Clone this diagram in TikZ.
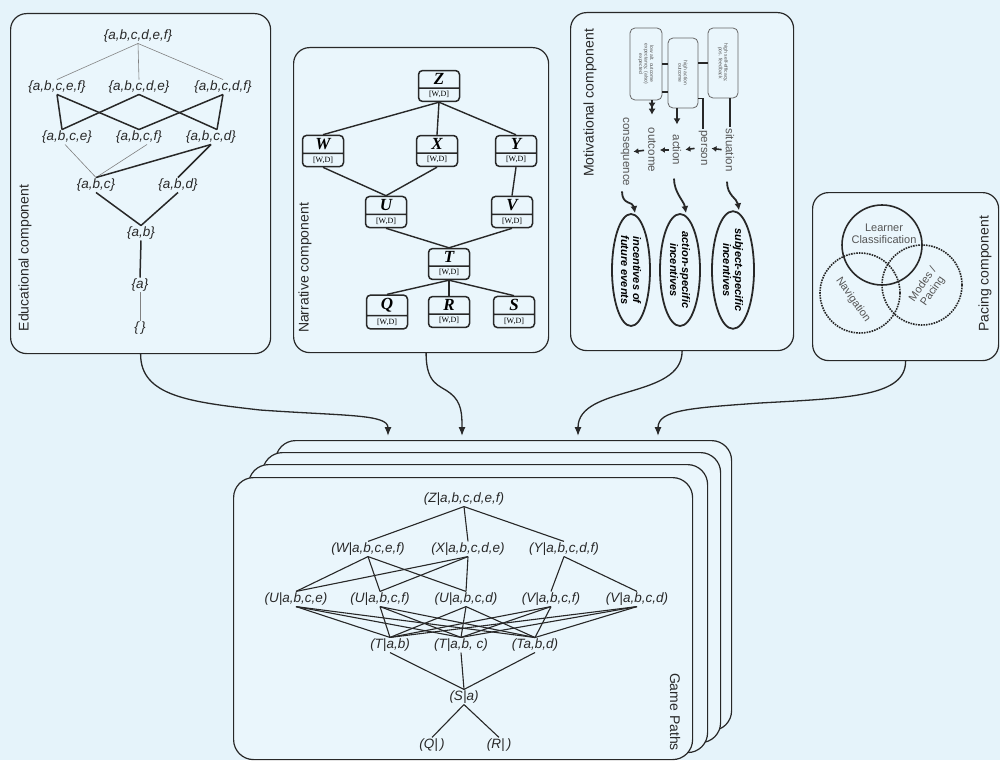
\documentclass[tikz,border=0pt]{standalone}
\usepackage{fontspec}
\setmainfont{Liberation Sans}
\newfontfamily\narfont{Liberation Serif}
\usetikzlibrary{shapes.geometric,shapes.multipart,arrows.meta}

\definecolor{bgblue}{RGB}{229,243,250}
\definecolor{panelblue}{RGB}{234,246,252}
\definecolor{inkgray}{RGB}{40,40,40}
\definecolor{wordgray}{RGB}{85,85,85}

\newcommand{\storytext}[1]{\narfont\bfseries\itshape\fontsize{17}{17}\selectfont #1\nodepart{second}\narfont\fontsize{8}{8}\selectfont[W,D]}

\tikzset{
  panel/.style={draw=inkgray, line width=1.2pt, fill=panelblue, rounded corners=16pt, anchor=north west, inner sep=0pt},
  panellabel/.style={font=\fontsize{14}{14}\selectfont, text=inkgray, rotate=90},
  setnode/.style={font=\fontsize{13.5}{13.5}\selectfont\itshape, text=inkgray, inner sep=1pt},
  thinedge/.style={draw=gray, line width=0.6pt},
  thickedge/.style={draw=inkgray, line width=1.5pt},
  story/.style={rectangle split, rectangle split parts=2, draw=inkgray, line width=1.5pt,
    rounded corners=4pt, fill=panelblue, text width=36pt, align=center, inner sep=2.5pt},
  storyedge/.style={draw=inkgray, line width=1.4pt},
  mbox/.style={draw=gray!80!black, line width=0.8pt, rounded corners=5pt, fill=panelblue,
    rotate=-90, align=center, inner sep=1pt, minimum height=30pt,
    font=\fontsize{5}{5.5}\selectfont, text=wordgray},
  mline/.style={draw=inkgray, line width=1.6pt},
  word/.style={font=\fontsize{11.5}{11.5}\selectfont, text=wordgray, rotate=-90, inner sep=1pt},
  wordarrow/.style={-{Latex[length=5pt,width=6pt]}, line width=1.6pt, draw=inkgray, shorten <=3pt, shorten >=3pt},
  incentive/.style={ellipse, draw=inkgray, line width=1.8pt, fill=panelblue, rotate=-90,
    minimum width=112pt, inner sep=0pt, align=center, font=\fontsize{11}{12}\selectfont\bfseries\itshape},
  squiggle/.style={-{Latex[length=7pt,width=7pt]}, line width=1.8pt, draw=inkgray},
  venn/.style={circle, draw=inkgray, line width=1.6pt, minimum size=80pt, inner sep=0pt},
  venntext/.style={font=\fontsize{11}{12}\selectfont, text=wordgray, align=center, inner sep=0pt},
  pathnode/.style={font=\fontsize{13.5}{13.5}\selectfont\itshape, text=inkgray, inner sep=1pt},
  pathedge/.style={draw=inkgray, line width=1.1pt},
  flow/.style={-{Latex[length=9pt,width=7pt]}, line width=1.3pt, draw=inkgray, shorten >=4pt}
}

\begin{document}
\begin{tikzpicture}[x=1pt,y=-1pt]
  % background
  \fill[bgblue] (0,0) rectangle (1000,760);
  \useasboundingbox (0,0) rectangle (1000,760);

  % Educational component
  \node[panel, minimum width=260pt, minimum height=340pt] (edu) at (10,13) {};
  \node[panellabel] (edulabel) at (25,258) {Educational component};
  \node[setnode] (s0) at (138,36) {\{a,b,c,d,e,f\}};
  \node[setnode] (s1) at (57,87) {\{a,b,c,e,f\}};
  \node[setnode] (s2) at (139,87) {\{a,b,c,d,e\}};
  \node[setnode] (s3) at (223,87) {\{a,b,c,d,f\}};
  \node[setnode] (s4) at (67,137) {\{a,b,c,e\}};
  \node[setnode] (s5) at (139,137) {\{a,b,c,f\}};
  \node[setnode] (s6) at (211,137) {\{a,b,c,d\}};
  \node[setnode] (s7) at (96,185) {\{a,b,c\}};
  \node[setnode] (s8) at (178,185) {\{a,b,d\}};
  \node[setnode] (s9) at (141,233) {\{a,b\}};
  \node[setnode] (s10) at (140,285) {\{a\}};
  \node[setnode] (s11) at (140,328) {\{\,\}};

  \draw[thinedge] (s0.south) -- (s1.north);
  \draw[thinedge] (s0.south) -- (s2.north);
  \draw[thinedge] (s0.south) -- (s3.north);
  \draw[thickedge] (s1.south) -- ([xshift=-5pt]s4.north);
  \draw[thickedge] (s1.south) -- (s5.north);
  \draw[thickedge] (s2.south) -- ([xshift=-5pt]s4.north);
  \draw[thickedge] (s2.south) -- ([xshift=6pt]s6.north);
  \draw[thickedge] (s3.south) -- (s5.north);
  \draw[thickedge] (s3.south) -- ([xshift=6pt]s6.north);
  \draw[thinedge] ([xshift=-2pt]s4.south) -- (s7.north);
  \draw[thinedge] ([xshift=8pt]s5.south) -- (s7.north);
  \draw[thickedge] (s6.south) -- (s7.north);
  \draw[thickedge] (s6.south) -- (s8.north);
  \draw[thickedge] (s7.south) -- (s9.north);
  \draw[thickedge] (s8.south) -- (s9.north);
  \draw[thickedge] (s9.south) -- (s10.north);
  \draw[thinedge] (s10.south) -- (s11.north);

  % Narrative component
  \node[panel, minimum width=255pt, minimum height=305pt] (nar) at (293,47) {};
  \node[panellabel] (narlabel) at (305,268) {Narrative component};
  \node[story] (nz) at (439,86) {\storytext{Z}};
  \node[story] (nw) at (323,151) {\storytext{W}};
  \node[story] (nx) at (437,151) {\storytext{X}};
  \node[story] (ny) at (516,151) {\storytext{Y}};
  \node[story] (nu) at (386,212) {\storytext{U}};
  \node[story] (nv) at (512,212) {\storytext{V}};
  \node[story] (nt) at (449,264) {\storytext{T}};
  \node[story] (nq) at (387,312) {\storytext{Q}};
  \node[story] (nr) at (449,312) {\storytext{R}};
  \node[story] (ns) at (514,312) {\storytext{S}};

  \draw[storyedge] (nz.south) -- (nw.north);
  \draw[storyedge] (nz.south) -- (nx.north);
  \draw[storyedge] (nz.south) -- (ny.north);
  \draw[storyedge] (nw.south) -- (nu.north);
  \draw[storyedge] (nx.south) -- (nu.north);
  \draw[storyedge] (ny.south) -- (nv.north);
  \draw[storyedge] (nu.south) -- (nt.north);
  \draw[storyedge] (nv.south) -- (nt.north);
  \draw[storyedge] (nt.south) -- (nq.north);
  \draw[storyedge] (nt.south) -- (nr.north);
  \draw[storyedge] (nt.south) -- (ns.north);

  % Motivational component
  \node[panel, minimum width=223pt, minimum height=338pt] (mot) at (570,12) {};
  \node[panellabel] (motlabel) at (590,103) {Motivational component};
  \node[mbox, minimum width=70pt] (box1) at (723,63) {high self-efficacy,\\pos. feedback};
  \node[mbox, minimum width=70pt] (box2) at (683,73) {high action\\outcome};
  \node[mbox, minimum width=72pt, minimum height=32pt] (box3) at (646,64) {low alt. outcome\\expectancy, (also)\\expected};

  \node[word] (sit) at (730,150) {situation};
  \node[word] (per) at (703,148) {person};
  \node[word] (act) at (677,150) {action};
  \node[word] (outc) at (652,150) {outcome};
  \node[word] (cons) at (625,152) {consequence};

  \draw[mline] (box3.north) -- (box3.north -| box2.south);
  \draw[mline] ([yshift=-28pt]box3.north) -- ([yshift=-28pt]box3.north -| box2.south);
  \draw[mline] (box1.south -| box2.north) -- (box1.south);
  \draw[mline] (sit.west |- box1.east) -- (sit.west);
  \draw[mline] ([yshift=10pt]box2.north east) -| (per.west);
  \draw[mline, -{Latex[length=6pt,width=7pt]}, shorten >=9pt] (act.west |- box2.east) -- (act.west);
  \draw[mline, -{Latex[length=6pt,width=7pt]Latex[length=6pt,width=7pt]}, shorten >=12pt] (outc.west |- box3.east) -- (outc.west);

  \draw[wordarrow] (sit.south) -- (per.north);
  \draw[wordarrow] (per.south) -- (act.north);
  \draw[wordarrow] (act.south) -- (outc.north);
  \draw[wordarrow] (outc.south) -- (cons.north);

  \node[incentive, minimum height=42pt] (subj) at (733,270) {subject-specific\\incentives};
  \node[incentive, minimum height=40pt] (acti) at (680,270) {action-specific\\incentives};
  \node[incentive, minimum height=38pt] (futu) at (631,270) {incentives of\\future events};

  \draw[squiggle] ([yshift=-9pt,xshift=-3pt]sit.east) .. controls +(0,14) and +(-2,-12) .. ([xshift=6pt]subj.west);
  \draw[squiggle] ([yshift=-12pt,xshift=-3pt]act.east) .. controls +(0,14) and +(-2,-12) .. ([xshift=6pt]acti.west);
  \draw[squiggle] ([yshift=-4pt,xshift=-3pt]cons.east) .. controls +(0,14) and +(-2,-12) .. ([xshift=4pt]futu.west);

  % Pacing component
  \node[panel, minimum width=186pt, minimum height=168pt] (pac) at (812,192) {};
  \node[panellabel] (paclabel) at (985,274) {Pacing component};
  \node[venn, densely dotted] (navc) at (860,293) {};
  \node[venn, densely dotted] (modc) at (922,285) {};
  \node[venn] (learnc) at (882,245) {};
  \node[venntext] (learnt) at (884,234) {Learner\\Classification};
  \node[venntext, rotate=-55] (navt) at (853,300) {Navigation};
  \node[venntext, rotate=55] (modt) at (928,288) {Modes /\\Pacing};

  % Game paths
  \node[panel, rounded corners=20pt, minimum width=456pt, minimum height=290pt] (gp4) at (275,440) {};
  \node[panel, rounded corners=20pt, minimum width=458pt, minimum height=290pt] (gp3) at (262,452) {};
  \node[panel, rounded corners=20pt, minimum width=459pt, minimum height=288pt] (gp2) at (248,464) {};
  \node[panel, rounded corners=20pt, minimum width=459pt, minimum height=282pt] (gp1) at (233,477) {};
  \node[panellabel, rotate=180] (gplabel) at (675,712) {Game Paths};

  \node[pathnode] (gz) at (464,499) {(Z|a,b,c,d,e,f)};
  \node[pathnode] (gw) at (368,549) {(W|a,b,c,e,f)};
  \node[pathnode] (gx) at (468,549) {(X|a,b,c,d,e)};
  \node[pathnode] (gy) at (564,549) {(Y|a,b,c,d,f)};
  \node[pathnode] (gu1) at (296,599) {(U|a,b,c,e)};
  \node[pathnode] (gu2) at (380,599) {(U|a,b,c,f)};
  \node[pathnode] (gu3) at (466,599) {(U|a,b,c,d)};
  \node[pathnode] (gv1) at (551,599) {(V|a,b,c,f)};
  \node[pathnode] (gv2) at (637,599) {(V|a,b,c,d)};
  \node[pathnode] (gt1) at (390,645) {(T|a,b)};
  \node[pathnode] (gt2) at (461,645) {(T|a,b, c)};
  \node[pathnode] (gt3) at (535,645) {(Ta,b,d)};
  \node[pathnode] (gs) at (464,697) {(S|a)};
  \node[pathnode] (gq) at (432,745) {(Q|\,)};
  \node[pathnode] (gr) at (499,745) {(R|\,)};

  \foreach \b in {gw,gx,gy} \draw[pathedge] (gz.south) -- (\b.north);
  \foreach \a in {gw,gx} \foreach \b in {gu1,gu2,gu3} \draw[pathedge] (\a.south) -- (\b.north);
  \foreach \b in {gv1,gv2} \draw[pathedge] (gy.south) -- (\b.north);
  \foreach \a in {gu1,gu2,gu3,gv1,gv2} \foreach \b in {gt1,gt2,gt3} \draw[pathedge] (\a.south) -- (\b.north);
  \foreach \a in {gt1,gt2,gt3} \draw[pathedge] (\a.south) -- (gs.north);
  \foreach \b in {gq,gr} \draw[pathedge] (gs.south) -- (\b.north);

  % Arrows from the components into the game paths
  \draw[flow] (edu.south) .. controls +(0,42) and (190,402) .. (260,410) .. controls (345,416) and (388,414) .. ([xshift=113pt]gp4.north west);
  \draw[flow] ([xshift=5pt]nar.south) .. controls +(0,32) and (440,385) .. (450,393) .. controls (462,402) and (462,415) .. ([xshift=187pt]gp4.north west);
  \draw[flow] (mot.south) .. controls +(0,48) and (578,385) .. ([xshift=303pt]gp4.north west);
  \draw[flow] (pac.south) .. controls +(0,35) and (850,398) .. (760,403) .. controls (690,408) and (658,410) .. ([xshift=383pt]gp4.north west);
\end{tikzpicture}
\end{document}
